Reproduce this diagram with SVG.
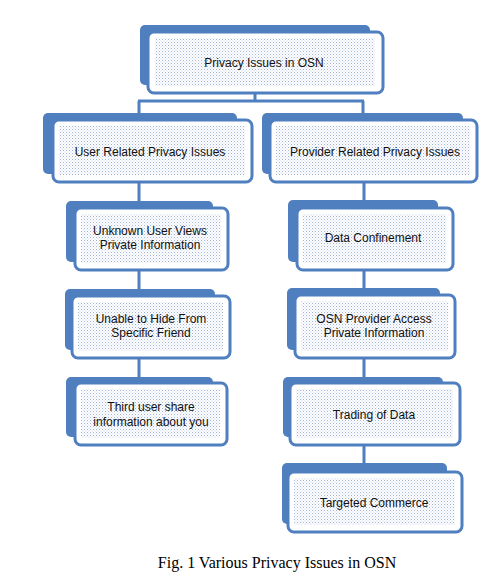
<svg xmlns="http://www.w3.org/2000/svg" width="493" height="578" viewBox="0 0 493 578">
<defs>
<pattern id="dots" width="3" height="3" patternUnits="userSpaceOnUse">
<rect width="3" height="3" fill="#ffffff"/>
<rect x="0" y="0" width="1" height="1" fill="#9fb3d6"/>
<rect x="1.5" y="1.5" width="1" height="1" fill="#c0cde6"/>
</pattern>
<style>
.back{fill:#4f7fbf;}
.front{fill:#ffffff;stroke:#4f7fbf;stroke-width:3;}
.dots{fill:url(#dots);}
.lbl{font-family:"Liberation Sans",Arial,sans-serif;font-size:12px;fill:#111;text-anchor:middle;}
.conn{stroke:#4f7fbf;stroke-width:3;fill:none;}
.cap{font-family:"Liberation Serif","Times New Roman",serif;font-size:16px;fill:#000;text-anchor:middle;}
</style>
</defs>
<rect width="493" height="578" fill="#ffffff"/>
<g id="connectors">
<path class="conn" d="M255 93 V101 M138 101 H364 M139 101 V114 M363 101 V114"/>
<path class="conn" d="M139 182 V202 M139 270 V290 M139 358 V378"/>
<path class="conn" d="M364 182 V201 M364 270 V289 M364 358 V378 M364 445 V464"/>
</g>
<g id="n-top">
<rect class="back" x="140" y="25" width="230" height="60" rx="5"/>
<rect class="front" x="148" y="32" width="235" height="61" rx="6"/>
<rect class="dots" x="155" y="38" width="220" height="48"/>
<text class="lbl" x="264" y="67">Privacy Issues in OSN</text>
</g>
<g id="n-user">
<rect class="back" x="43" y="113" width="194" height="61" rx="5"/>
<rect class="front" x="53" y="120" width="199" height="62" rx="6"/>
<rect class="dots" x="59" y="126" width="186" height="49"/>
<text class="lbl" x="150" y="156">User Related Privacy Issues</text>
</g>
<g id="n-provider">
<rect class="back" x="262" y="113" width="201" height="61" rx="5"/>
<rect class="front" x="270" y="120" width="207" height="62" rx="6"/>
<rect class="dots" x="276" y="126" width="194" height="49"/>
<text class="lbl" x="375" y="156">Provider Related Privacy Issues</text>
</g>
<g id="n-unknown">
<rect class="back" x="66" y="201" width="147" height="61" rx="5"/>
<rect class="front" x="75" y="208" width="153" height="62" rx="6"/>
<rect class="dots" x="81" y="214" width="140" height="49"/>
<text class="lbl" x="150" y="235">Unknown User Views</text>
<text class="lbl" x="150" y="249">Private Information</text>
</g>
<g id="n-data">
<rect class="back" x="288" y="200" width="150" height="62" rx="5"/>
<rect class="front" x="297" y="208" width="156" height="62" rx="6"/>
<rect class="dots" x="303" y="214" width="143" height="49"/>
<text class="lbl" x="373" y="242">Data Confinement</text>
</g>
<g id="n-unable">
<rect class="back" x="65" y="289" width="150" height="61" rx="5"/>
<rect class="front" x="72" y="296" width="158" height="62" rx="6"/>
<rect class="dots" x="78" y="302" width="145" height="49"/>
<text class="lbl" x="151" y="323">Unable to Hide From</text>
<text class="lbl" x="151" y="337">Specific Friend</text>
</g>
<g id="n-osnprovider">
<rect class="back" x="287" y="288" width="153" height="62" rx="5"/>
<rect class="front" x="295" y="295" width="160" height="63" rx="6"/>
<rect class="dots" x="301" y="301" width="147" height="50"/>
<text class="lbl" x="374" y="323">OSN Provider Access</text>
<text class="lbl" x="374" y="337">Private Information</text>
</g>
<g id="n-third">
<rect class="back" x="66" y="377" width="147" height="60" rx="5"/>
<rect class="front" x="75" y="383" width="152" height="62" rx="6"/>
<rect class="dots" x="81" y="389" width="139" height="49"/>
<text class="lbl" x="151" y="411">Third user share</text>
<text class="lbl" x="151" y="426">information about you</text>
</g>
<g id="n-trading">
<rect class="back" x="283" y="377" width="160" height="60" rx="5"/>
<rect class="front" x="290" y="383" width="170" height="62" rx="6"/>
<rect class="dots" x="296" y="389" width="157" height="49"/>
<text class="lbl" x="374" y="419">Trading of Data</text>
</g>
<g id="n-targeted">
<rect class="back" x="282" y="463" width="165" height="61" rx="5"/>
<rect class="front" x="288" y="472" width="174" height="60" rx="6"/>
<rect class="dots" x="294" y="478" width="161" height="47"/>
<text class="lbl" x="374" y="507">Targeted Commerce</text>
</g>
<text class="cap" x="277" y="568">Fig. 1 Various Privacy Issues in OSN</text>
</svg>
